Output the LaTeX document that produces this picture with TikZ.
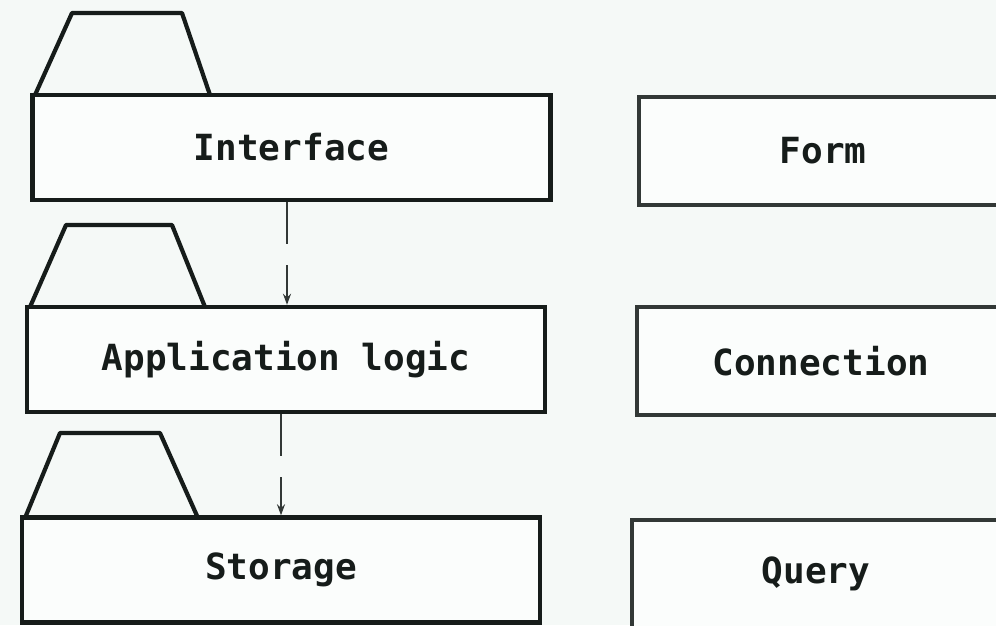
\documentclass[tikz,border=0pt]{standalone}
\usepackage{fontspec}
\setmonofont{DejaVu Sans Mono}
\usetikzlibrary{arrows.meta}
\definecolor{paper}{RGB}{245,249,247}
\definecolor{ink}{RGB}{22,28,26}
\definecolor{inkb}{RGB}{50,56,54}
\tikzset{
  layer/.style={draw=ink, line width=4.4pt, fill=white!60!paper, minimum height=105pt, minimum width=518pt, inner sep=0pt, font=\ttfamily\bfseries\fontsize{36}{40}\selectfont, text=ink},
  piece/.style={draw=inkb, line width=3.2pt, fill=white!60!paper, minimum height=108pt, minimum width=368pt, inner sep=0pt, font=\ttfamily\bfseries\fontsize{36}{40}\selectfont, text=ink},
  tab/.style={draw=ink, line width=4.2pt, line join=round},
  flow/.style={draw=inkb, line width=2pt, dash pattern=on 42pt off 21pt, -{Stealth[length=11pt,width=8pt]}}
}
\begin{document}
\begin{tikzpicture}[x=1pt,y=-1pt]
\useasboundingbox[fill=paper] (0,0) rectangle (996,625);
% layers
\node[layer] (iface) at (291.5,147.5) {Interface};
\node[layer] (app) at (286,359.5) {Application logic};
\node[layer] (store) at (281,570) {Storage};
% tabs
\draw[tab] (35,95) -- (72,13) -- (182,13) -- (210,95);
\draw[tab] (30,307) -- (66,225) -- (172,225) -- (205,307);
\draw[tab] (25,518) -- (60,433) -- (160,433) -- (198,518);
% right boxes
\node[piece] (form) at (823,151) {Form};
\node[piece] (conn) at (821,361) {Connection};
\node[piece] (query) at (816,574) {Query};
% arrows
\coordinate (a1) at (287,0);
\coordinate (a2) at (281,0);
\draw[flow] (iface.south -| a1) -- (app.north -| a1);
\draw[flow] (app.south -| a2) -- (store.north -| a2);
\end{tikzpicture}
\end{document}
